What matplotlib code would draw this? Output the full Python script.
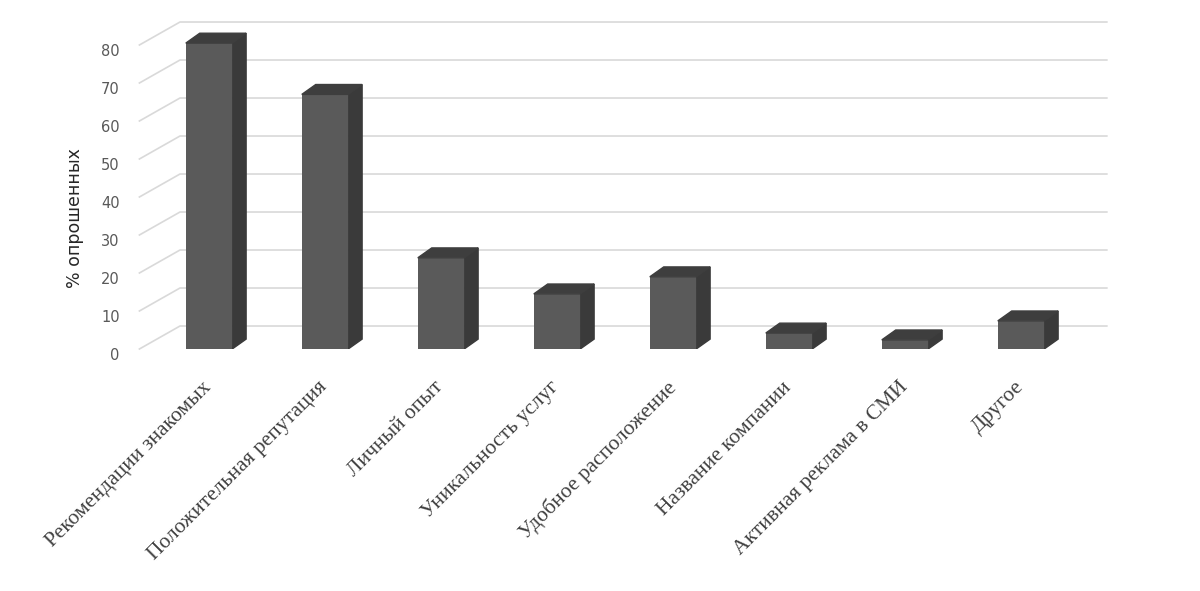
import matplotlib.pyplot as plt
from matplotlib.patches import Polygon

categories = ["Рекомендации знакомых", "Положительная репутация", "Личный опыт",
              "Уникальность услуг", "Удобное расположение", "Название компании",
              "Активная реклама в СМИ", "Другое"]
values = [80.5, 67, 24, 14.5, 19, 4.2, 2.4, 7.4]
yticks = [0, 10, 20, 30, 40, 50, 60, 70, 80]

W, H = 1200, 591
fig = plt.figure(figsize=(W / 100, H / 100), dpi=100)
# 116 px per category, 3.8 px per percent
ax = fig.add_axes([139.4 / W, (H - 349) / H, 974.4 / W, 345.8 / H])
ax.set_xlim(-0.6, 7.8)
ax.set_ylim(0, 91)
ax.axis("off")

grid_c = "#d9d9d9"
wdx, wdy = 0.345, 6.05   # wall depth
for v in yticks:
    ax.plot([-0.6, -0.25, 7.74], [v, v + wdy, v + wdy], color=grid_c, lw=1.2,
            clip_on=False, zorder=1)

bw, bdx, bdy = 0.4, 0.12, 2.6
for i, v in enumerate(values):
    l, r = i - bw / 2, i + bw / 2
    ax.bar(i, v, width=bw, color="#5a5a5a", zorder=3)
    ax.add_patch(Polygon([(r, 0), (r + bdx, bdy), (r + bdx, v + bdy), (r, v)],
                         color="#3a3a3a", zorder=2))
    ax.add_patch(Polygon([(l, v), (l + bdx, v + bdy), (r + bdx, v + bdy), (r, v)],
                         color="#3e3e3e", zorder=3))
    ax.text(i - 0.06, -7.6, categories[i], rotation=45, rotation_mode="anchor",
            ha="right", va="top", fontsize=15.5, family="Liberation Serif",
            color="#404040")

for t in yticks:
    ax.text(-0.77, t - 1.6, str(t), ha="right", va="center", fontsize=10.5,
            color="#595959", clip_on=False)

ax.text(-1.155, 34.5, "% опрошенных", rotation=90, ha="center", va="center",
        fontsize=12.5, color="#262626")

fig.savefig("out.png", dpi=100)
